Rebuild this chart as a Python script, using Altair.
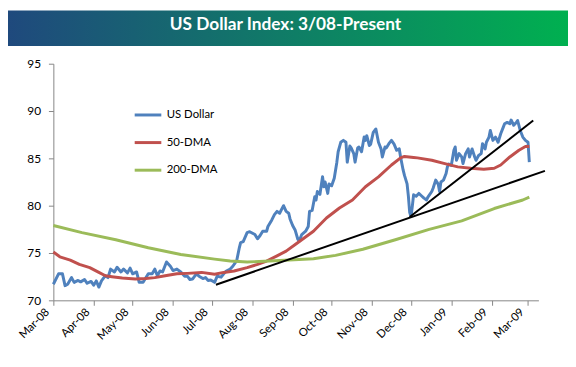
import altair as alt
import pandas as pd

title_text = "US Dollar Index: 3/08-Present"

series_names = ["US Dollar", "50-DMA", "200-DMA"]
series_colors = ["#4F81BD", "#C0504D", "#9BBB59"]

usd_dates = [
    "2008-03-01", "2008-03-05", "2008-03-08", "2008-03-10", "2008-03-12", "2008-03-15", "2008-03-17",
    "2008-03-20", "2008-03-22", "2008-03-25", "2008-03-27", "2008-03-30", "2008-04-01", "2008-04-03",
    "2008-04-05", "2008-04-07", "2008-04-10", "2008-04-12", "2008-04-14", "2008-04-17", "2008-04-19",
    "2008-04-22", "2008-04-24", "2008-04-27", "2008-04-29", "2008-05-01", "2008-05-04", "2008-05-06",
    "2008-05-09", "2008-05-13", "2008-05-16", "2008-05-18", "2008-05-20", "2008-05-22", "2008-05-24",
    "2008-05-27", "2008-05-30", "2008-06-01", "2008-06-04", "2008-06-07", "2008-06-10", "2008-06-12",
    "2008-06-14", "2008-06-16", "2008-06-19", "2008-06-21", "2008-06-24", "2008-06-26", "2008-06-28",
    "2008-06-30", "2008-07-03", "2008-07-05", "2008-07-08", "2008-07-10", "2008-07-12", "2008-07-15",
    "2008-07-17", "2008-07-20", "2008-07-22", "2008-07-23", "2008-07-25", "2008-07-28", "2008-07-30",
    "2008-08-03", "2008-08-05", "2008-08-07", "2008-08-09", "2008-08-12", "2008-08-13", "2008-08-16",
    "2008-08-18", "2008-08-20", "2008-08-22", "2008-08-25", "2008-08-27", "2008-08-29", "2008-08-30",
    "2008-09-01", "2008-09-03", "2008-09-05", "2008-09-06", "2008-09-08", "2008-09-11", "2008-09-13",
    "2008-09-14", "2008-09-16", "2008-09-18", "2008-09-19", "2008-09-20", "2008-09-22", "2008-09-24",
    "2008-09-25", "2008-09-26", "2008-09-28", "2008-09-29", "2008-10-01", "2008-10-03", "2008-10-05",
    "2008-10-06", "2008-10-08", "2008-10-10", "2008-10-12", "2008-10-13", "2008-10-15", "2008-10-16",
    "2008-10-18", "2008-10-19", "2008-10-21", "2008-10-22", "2008-10-24", "2008-10-26", "2008-10-27",
    "2008-10-28", "2008-10-30", "2008-10-31", "2008-11-02", "2008-11-04", "2008-11-06", "2008-11-08",
    "2008-11-09", "2008-11-11", "2008-11-12", "2008-11-14", "2008-11-16", "2008-11-18", "2008-11-20",
    "2008-11-22", "2008-11-23", "2008-11-25", "2008-11-26", "2008-11-28", "2008-11-29", "2008-11-30",
    "2008-12-01", "2008-12-02", "2008-12-03", "2008-12-05", "2008-12-07", "2008-12-09", "2008-12-11",
    "2008-12-13", "2008-12-14", "2008-12-17", "2008-12-18", "2008-12-20", "2008-12-22", "2008-12-23",
    "2008-12-24", "2008-12-26", "2008-12-28", "2008-12-29", "2008-12-30", "2009-01-01", "2009-01-03",
    "2009-01-04", "2009-01-05", "2009-01-07", "2009-01-09", "2009-01-10", "2009-01-12", "2009-01-14",
    "2009-01-15", "2009-01-17", "2009-01-19", "2009-01-20", "2009-01-22", "2009-01-24", "2009-01-25",
    "2009-01-27", "2009-01-28", "2009-01-30", "2009-01-31", "2009-02-02", "2009-02-04", "2009-02-06",
    "2009-02-08", "2009-02-10", "2009-02-11", "2009-02-13", "2009-02-15", "2009-02-16", "2009-02-18",
    "2009-02-20", "2009-02-21", "2009-02-23", "2009-02-25", "2009-02-27", "2009-03-01", "2009-03-02",
]
usd_values = [
    71.7, 72.8, 72.8, 71.55, 71.7, 72.4, 71.9,
    72.1, 71.95, 72.2, 71.8, 72.0, 71.6, 72.05,
    71.4, 72.05, 72.6, 72.4, 73.3, 73.0, 73.5,
    73.0, 73.3, 72.9, 73.4, 72.8, 73.0, 71.9,
    71.9, 72.8, 72.8, 73.3, 72.6, 73.1, 73.0,
    74.05, 73.6, 73.15, 73.3, 73.0, 72.55, 72.55,
    72.2, 72.25, 72.8, 72.55, 72.3, 72.4, 72.1,
    72.15, 71.9, 72.55, 72.45, 72.8, 73.1, 73.3,
    73.6, 74.2, 75.55, 76.1, 76.2, 77.15, 77.25,
    76.95, 76.5, 76.85, 77.3, 77.3, 77.8, 78.5,
    79.05, 79.4, 79.2, 80.0, 79.4, 79.2, 78.6,
    77.9, 77.4, 76.45, 76.25, 76.95, 77.3, 77.8,
    79.4, 79.5, 80.95, 80.6, 81.5, 81.2, 83.05,
    82.0, 82.5, 81.3, 82.3, 82.1, 82.9, 84.6,
    85.7, 86.7, 86.9, 86.7, 84.6, 86.3, 86.1,
    85.5, 84.6, 86.1, 86.2, 85.7, 87.25, 86.9,
    87.4, 86.35, 86.5, 87.75, 88.1, 86.7, 86.0,
    85.15, 86.2, 86.1, 86.55, 86.9, 86.5, 85.85,
    86.0, 85.15, 83.75, 83.2, 82.3, 81.0, 79.3,
    78.85, 79.9, 81.15, 81.0, 81.3, 81.05, 80.8,
    80.6, 80.9, 81.5, 81.85, 82.7, 82.25, 81.5,
    82.5, 82.7, 83.4, 84.1, 84.4, 84.25, 85.85,
    86.2, 84.8, 85.5, 85.15, 84.45, 85.5, 86.0,
    85.15, 86.0, 85.15, 84.8, 85.3, 85.5, 86.55,
    86.0, 86.7, 87.25, 87.95, 86.9, 87.25, 86.7,
    87.6, 88.3, 88.65, 88.8, 88.65, 89.05, 88.5,
    88.8, 89.0, 87.95, 87.25, 86.9, 86.7, 84.6,
]

dma50_dates = [
    "2008-03-01", "2008-03-06", "2008-03-14", "2008-03-21", "2008-03-29", "2008-04-05", "2008-04-10",
    "2008-04-15", "2008-04-23", "2008-05-03", "2008-05-11", "2008-05-18", "2008-05-26", "2008-06-04",
    "2008-06-12", "2008-06-23", "2008-07-03", "2008-07-10", "2008-07-18", "2008-07-28", "2008-08-05",
    "2008-08-12", "2008-08-20", "2008-08-27", "2008-09-03", "2008-09-17", "2008-09-27", "2008-10-07",
    "2008-10-17", "2008-10-27", "2008-11-06", "2008-11-16", "2008-11-23", "2008-11-26", "2008-12-03",
    "2008-12-06", "2008-12-17", "2008-12-27", "2009-01-06", "2009-01-16", "2009-01-26", "2009-02-03",
    "2009-02-08", "2009-02-15", "2009-02-22", "2009-02-27", "2009-03-02",
]
dma50_values = [
    75.1, 74.6, 74.25, 73.8, 73.45, 72.95, 72.6,
    72.5, 72.35, 72.25, 72.3, 72.4, 72.6, 72.8,
    72.85, 72.95, 72.75, 72.95, 73.1, 73.45, 73.8,
    74.15, 74.7, 75.2, 75.9, 77.3, 78.7, 79.75,
    80.6, 82.0, 83.05, 84.3, 85.05, 85.2, 85.1,
    85.05, 84.8, 84.45, 84.1, 83.95, 83.85, 83.95,
    84.3, 85.15, 85.85, 86.25, 86.25,
]

dma200_dates = [
    "2008-03-01", "2008-03-23", "2008-04-18", "2008-05-13", "2008-06-07", "2008-07-03", "2008-07-15",
    "2008-07-28", "2008-08-22", "2008-09-17", "2008-10-04", "2008-10-25", "2008-11-19", "2008-12-15",
    "2009-01-09", "2009-02-03", "2009-02-25", "2009-03-02",
]
dma200_values = [
    77.9, 77.15, 76.4, 75.55, 74.85, 74.35, 74.15,
    74.05, 74.2, 74.4, 74.75, 75.4, 76.4, 77.5,
    78.4, 79.7, 80.6, 80.9,
]

trend_start_dates = ["2008-07-04", "2008-11-30"]
trend_start_values = [71.65, 78.8]
trend_end_dates = ["2009-03-14", "2009-03-05"]
trend_end_values = [83.68, 88.99]

month_ticks = [(2008, m) for m in range(3, 13)] + [(2009, 1), (2009, 2), (2009, 3)]
y_ticks = [70, 75, 80, 85, 90, 95]

FONT = "Lato"
AXIS_GREY = "#868686"

df = pd.concat([
    pd.DataFrame({"date": usd_dates, "value": usd_values, "series": series_names[0]}),
    pd.DataFrame({"date": dma50_dates, "value": dma50_values, "series": series_names[1]}),
    pd.DataFrame({"date": dma200_dates, "value": dma200_values, "series": series_names[2]}),
], ignore_index=True)

df_trend = pd.DataFrame({
    "start": trend_start_dates, "end": trend_end_dates,
    "sv": trend_start_values, "ev": trend_end_values,
})

x_scale = alt.Scale(
    type="utc",
    domain=[alt.DateTime(year=2008, month=3, date=1, utc=True),
            alt.DateTime(year=2009, month=3, date=9, utc=True)],
    nice=False,
)
y_scale = alt.Scale(domain=[70, 95], nice=False, zero=False)

x_axis = alt.Axis(
    values=[alt.DateTime(year=y, month=m, date=1, utc=True) for y, m in month_ticks],
    format="%b-%y", labelAngle=315, labelAlign="right", labelBaseline="middle",
    labelOffset=-6, labelPadding=5, labelFlush=False, labelOverlap=False,
    tickSize=5, grid=False, domainColor=AXIS_GREY, tickColor=AXIS_GREY,
    labelFont=FONT, labelFontSize=11.5, labelColor="#000000", title=None,
)
y_axis = alt.Axis(
    values=y_ticks, tickSize=5, grid=False, domainColor=AXIS_GREY, tickColor=AXIS_GREY,
    labelFont=FONT, labelFontSize=12, labelPadding=8, labelColor="#000000", title=None,
)
legend = alt.Legend(
    title=None, orient="none", legendX=81, legendY=37, symbolType="stroke",
    symbolSize=729, symbolStrokeWidth=3, labelFont=FONT, labelFontSize=11.5,
    labelColor="#000000", rowPadding=7, padding=0, labelOffset=4,
)
color = alt.Color("series:N", scale=alt.Scale(domain=series_names, range=series_colors), legend=legend)

def series_layer(name):
    return alt.Chart(df).transform_filter(alt.datum.series == name).mark_line(
        strokeWidth=3, strokeJoin="round"
    ).encode(
        x=alt.X("date:T", scale=x_scale, axis=x_axis),
        y=alt.Y("value:Q", scale=y_scale, axis=y_axis),
        color=color,
    )

banner = alt.Chart(alt.Data(values=[{}])).mark_rect(
    color=alt.LinearGradient(
        gradient="linear",
        stops=[alt.GradientStop(color="#1F497D", offset=0), alt.GradientStop(color="#00B050", offset=1)],
        x1=0, x2=1, y1=0, y2=0,
    )
).encode(x=alt.value(-46), x2=alt.value(522), y=alt.value(-54), y2=alt.value(-18))

title = alt.Chart(alt.Data(values=[{}])).mark_text(
    text=title_text, font=FONT, fontSize=17.5, fontWeight="bold", color="white",
    align="center", baseline="middle",
).encode(x=alt.value(235.5), y=alt.value(-39.5))

trends = alt.Chart(df_trend).mark_rule(color="black", strokeWidth=2).encode(
    x=alt.X("start:T", scale=x_scale, axis=x_axis),
    x2=alt.X2("end"),
    y=alt.Y("sv:Q", scale=y_scale, axis=y_axis),
    y2=alt.Y2("ev"),
)

chart = alt.layer(
    banner, title,
    series_layer(series_names[0]), series_layer(series_names[1]), series_layer(series_names[2]),
    trends,
).properties(
    width=492, height=240,
    autosize=alt.AutoSizeParams(type="none"),
    padding={"left": 46, "top": 54, "right": 30, "bottom": 57},
    background="white",
).configure_view(stroke=None)

chart.save("out.html", embed_options={"renderer": "svg", "actions": False})
